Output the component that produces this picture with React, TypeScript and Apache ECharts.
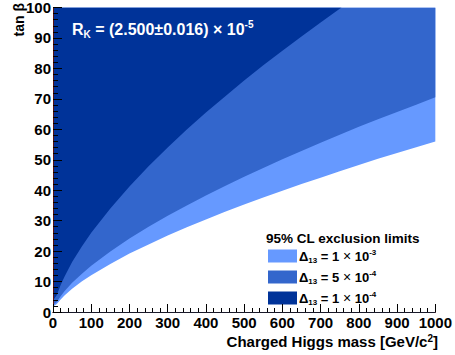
import React, { useEffect, useRef } from "react";
import * as echarts from "echarts";

// Charged Higgs mass [GeV/c^2]
const mass = [0, 10, 20, 30, 50, 75, 100, 150, 200, 250, 300, 350, 400, 450, 500, 550, 600, 650, 700, 750, 800, 850, 900, 950, 1000];
// tan beta boundaries (region above each curve is excluded)
const tanbDelta1e3 = [1.8, 2.6, 4.1, 5.4, 7.6, 10.0, 12.1, 15.8, 19.2, 22.2, 25.1, 27.8, 30.4, 32.9, 35.3, 37.6, 39.8, 42.0, 44.1, 46.2, 48.3, 50.3, 52.2, 54.1, 56.0];
const tanbDelta5e4 = [2.4, 3.3, 5.2, 6.8, 9.6, 12.5, 15.2, 19.9, 24.1, 28.0, 31.6, 35.0, 38.3, 41.4, 44.4, 47.3, 50.2, 52.9, 55.6, 58.2, 60.8, 63.3, 65.7, 68.1, 70.5];
const darkMass = [0, 10, 20, 30, 50, 75, 100, 150, 200, 250, 300, 350, 400, 450, 500, 550, 600, 650, 700, 750, 755];
const tanbDelta1e4 = [3.8, 5.6, 8.9, 11.6, 16.4, 21.4, 26.0, 34.0, 41.2, 47.9, 54.0, 59.9, 65.5, 70.8, 76.0, 81.0, 85.8, 90.5, 95.1, 99.6, 100];

const legendMantissa = ["1", "5", "1"];
const legendExponent = ["-3", "-4", "-4"];
const seriesNames = ["Δ13 = 1×10-3", "Δ13 = 5×10-4", "Δ13 = 1×10-4"];
const colors = ["#6699ff", "#3366cc", "#003399"];

const xTicks = [0, 100, 200, 300, 400, 500, 600, 700, 800, 900, 1000];
const yTicks = [0, 10, 20, 30, 40, 50, 60, 70, 80, 90, 100];

const FONT = "'Liberation Sans', Arial, Helvetica, sans-serif";

export default function App() {
  const ref = useRef<HTMLDivElement>(null);
  useEffect(() => {
    if (!ref.current) return;
    const chart = echarts.init(ref.current, null, { renderer: "svg" });
    const pairs = (xs: number[], ys: number[]) => xs.map((x, i) => [x, ys[i]]);
    const datasets = [
      pairs(mass, tanbDelta1e3),
      pairs(mass, tanbDelta5e4),
      pairs(darkMass, tanbDelta1e4),
    ];
    const base = { fontFamily: FONT, fontWeight: "bold" as const, color: "#000" };
    chart.setOption({
      animation: false,
      backgroundColor: "#fff",
      grid: { left: 53, right: 16, top: 4, bottom: 43, containLabel: false },
      title: [
        {
          text: "{t|R}{sub|K}{t| = (2.500±0.016) }{x|×}{t| 10}{sup|-5}",
          left: 67,
          top: 14,
          textStyle: {
            rich: {
              t: { ...base, color: "#fff", fontSize: 16, lineHeight: 20, verticalAlign: "middle" },
              x: { fontFamily: FONT, color: "#fff", fontSize: 16, lineHeight: 20 },
              sub: { ...base, color: "#fff", fontSize: 10, lineHeight: 10, verticalAlign: "bottom" },
              sup: { ...base, color: "#fff", fontSize: 10, lineHeight: 10, verticalAlign: "top" },
            },
          },
        },
        {
          text: "95% CL exclusion limits",
          left: 261,
          top: 226,
          textStyle: { ...base, fontSize: 13.5 },
        },
      ],
      legend: {
        orient: "vertical",
        left: 263,
        top: 243,
        itemWidth: 29,
        itemHeight: 13,
        itemGap: 5,
        icon: "rect",
        data: seriesNames,
        formatter: (name: string) => {
          const i = seriesNames.indexOf(name);
          return `{t|Δ}{sub|13}{t| = ${legendMantissa[i]} }{x|×}{t| 10}{sup|${legendExponent[i]}}`;
        },
        textStyle: {
          padding: [0, 0, 0, -3],
          rich: {
            t: { ...base, fontSize: 13, lineHeight: 16 },
            x: { fontFamily: FONT, color: "#000", fontSize: 14, lineHeight: 16 },
            sub: { ...base, fontSize: 8, lineHeight: 8, verticalAlign: "bottom" },
            sup: { ...base, fontSize: 8, lineHeight: 8, verticalAlign: "top" },
          },
        },
      },
      xAxis: [
        {
          type: "value",
          min: 0,
          max: 1000,
          interval: 100,
          z: 10,
          axisLine: { show: true, lineStyle: { color: "#d03030", width: 1 } },
          axisTick: { show: true, inside: true, length: 8, lineStyle: { color: "#000" } },
          minorTick: { show: true, splitNumber: 5, length: 4, lineStyle: { color: "#000" } },
          splitLine: { show: false },
          axisLabel: {
            ...base,
            fontSize: 15,
            margin: 3,
            formatter: (v: number) => (xTicks.includes(v) ? String(v) : ""),
          },
        },
        {
          type: "value",
          position: "top",
          min: 0,
          max: 1000,
          z: 10,
          axisLine: { show: true, lineStyle: { color: "#1a1a2a", width: 1 } },
          axisTick: { show: false },
          axisLabel: { show: false },
          splitLine: { show: false },
        },
      ],
      yAxis: [
        {
          type: "value",
          min: 0,
          max: 100,
          interval: 10,
          z: 10,
          axisLine: { show: true, lineStyle: { color: "#000", width: 1 } },
          axisTick: { show: true, inside: true, length: 9, lineStyle: { color: "#000" } },
          minorTick: { show: true, splitNumber: 5, length: 5, lineStyle: { color: "#000" } },
          splitLine: { show: false },
          axisLabel: {
            ...base,
            fontSize: 15,
            margin: 2,
            formatter: (v: number) => (yTicks.includes(v) ? String(v) : ""),
          },
        },
        {
          type: "value",
          position: "right",
          min: 0,
          max: 100,
          z: 10,
          axisLine: { show: true, lineStyle: { color: "#5a1010", width: 1 } },
          axisTick: { show: false },
          axisLabel: { show: false },
          splitLine: { show: false },
        },
      ],
      series: datasets.map((d, i) => ({
        name: seriesNames[i],
        type: "line",
        data: d,
        smooth: false,
        showSymbol: false,
        symbol: "none",
        clip: true,
        color: colors[i],
        itemStyle: { color: colors[i] },
        lineStyle: { width: 0, color: colors[i] },
        areaStyle: { origin: "end", color: colors[i], opacity: 1 },
        z: 2 + i,
      })),
      graphic: [
        {
          type: "text",
          x: 19,
          y: 3,
          rotation: Math.PI / 2,
          style: {
            text: "tan β",
            fill: "#000",
            font: `bold 14px ${FONT}`,
            align: "right",
            verticalAlign: "middle",
          },
        },
        {
          type: "text",
          right: 17,
          top: 333,
          style: {
            text: "{t|Charged Higgs mass [GeV/c}{sup|2}{t|]}",
            rich: {
              t: { ...base, fontSize: 15, lineHeight: 17 },
              sup: { ...base, fontSize: 10, lineHeight: 10, verticalAlign: "top" },
            },
          },
        },
      ],
    });
    return () => chart.dispose();
  }, []);
  return (
    <div
      ref={ref}
      style={{ position: "absolute", left: 0, top: 0, width: 455, height: 355 }}
    />
  );
}
